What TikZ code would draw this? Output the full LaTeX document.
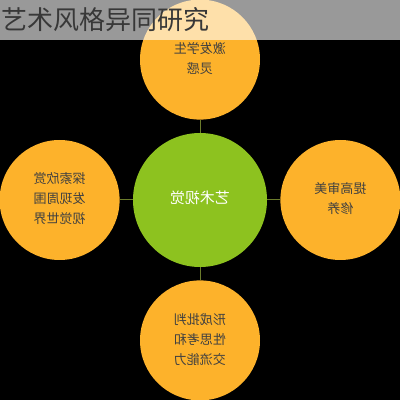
\documentclass[tikz,border=0pt]{standalone}
\usepackage{fontspec}
\usepackage{graphicx}
\newfontfamily\cjk{Noto Sans CJK SC}
\usetikzlibrary{positioning}
\definecolor{petal}{HTML}{FDB22B}
\definecolor{core}{HTML}{8DC21F}
\definecolor{stem}{HTML}{6B7B2B}
\newcommand{\flip}[1]{\reflectbox{\begin{tabular}{@{}c@{}}#1\end{tabular}}}

\begin{document}
\begin{tikzpicture}[
    x=1pt, y=1pt,
    hub/.style={circle, fill=core, minimum size=134pt, inner sep=0pt, text=white, font=\cjk\fontsize{15}{20}\selectfont},
    leaf/.style={circle, fill=petal, minimum size=120pt, inner sep=0pt, text=black!75, font=\cjk\fontsize{13}{20}\selectfont},
    link/.style={stem, line width=1pt},
    node distance=13pt
]
    \fill[black] (0,0) rectangle (400,400);
    \useasboundingbox (0,0) rectangle (400,400);

    \node[hub] (art) at (200,200) {\flip{艺术视觉}};
    \node[leaf, above=of art] (inspire) {\flip{激发学生\\灵感}};
    \node[leaf, right=of art] (taste) {\flip{提高审美\\修养}};
    \node[leaf, below=of art] (critic) {\flip{形成批判\\性思考和\\交流能力}};
    \node[leaf, left=of art] (explore) {\flip{探索欣赏\\发现周围\\视觉世界}};

    \foreach \leafname in {inspire,taste,critic,explore}
        \draw[link] (art) -- (\leafname);

    % title bar
    \fill[white, opacity=0.6] (0,360) rectangle (400,400);
    \node[anchor=west, inner sep=0pt, text=black!78, font=\cjk\fontsize{26}{30}\selectfont] (title) at (1,380) {艺术风格异同研究};
\end{tikzpicture}
\end{document}
